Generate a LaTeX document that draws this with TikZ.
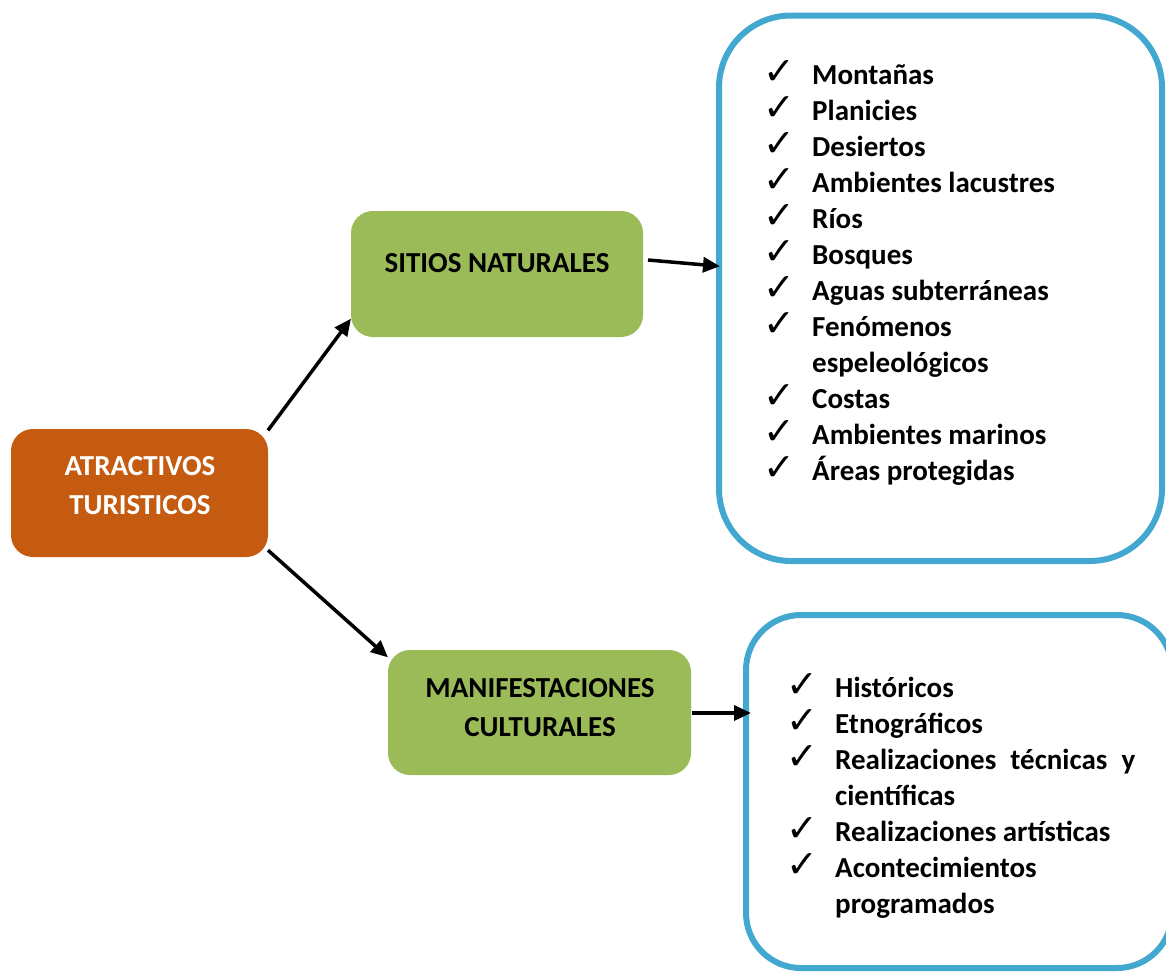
\documentclass[tikz,border=0pt]{standalone}
\usepackage{fontspec}
\setmainfont{Carlito}
\newfontfamily\symfont{DejaVu Sans}
\usetikzlibrary{arrows.meta,calc}
\definecolor{orangebox}{HTML}{C55A11}
\definecolor{greenbox}{HTML}{9BBB59}
\definecolor{bluebox}{HTML}{43A8CF}
\newcommand\ck{\makebox[47pt][l]{\hspace*{-2pt}\symfont\fontsize{38}{38}\selectfont ✓}}
\newcommand\nock{\hspace*{47pt}}
\begin{document}
\begin{tikzpicture}[x=1pt,y=-1pt,
  box/.style={rounded corners=22pt, inner sep=0pt, outer sep=0pt},
  listbox/.style={draw=bluebox, line width=6pt, fill=white, inner sep=0pt, outer sep=0pt},
  lbl/.style={anchor=base, inner sep=0pt, font=\bfseries\fontsize{29}{39}\selectfont},
  lst/.style={anchor=base west, inner sep=0pt, font=\bfseries\fontsize{29}{36}\selectfont},
  arr/.style={line width=3.5pt, -{Triangle[length=17pt,width=15pt]}},
]
\useasboundingbox (0,0) rectangle (1166,972);
% boxes
\node[box, fill=orangebox, minimum width=257pt, minimum height=128pt] (a) at (139.5,493) {};
\node[lbl, text=white] (at) at (140,475) {\begin{tabular}[t]{@{}c@{}}ATRACTIVOS\\TURISTICOS\end{tabular}};

\node[box, fill=greenbox, minimum width=292pt, minimum height=126pt] (s) at (497,274) {};
\node[lbl] (st) at (497,272) {SITIOS NATURALES};

\node[box, fill=greenbox, minimum width=303pt, minimum height=125pt] (m) at (539.5,712.5) {};
\node[lbl] (mt) at (540,697) {\begin{tabular}[t]{@{}c@{}}MANIFESTACIONES\\CULTURALES\end{tabular}};

\node[listbox, rounded corners=72pt, minimum width=443pt, minimum height=545.5pt] (b1) at (940.5,288.25) {};
\node[lst] (l1) at (765,84) {\begin{tabular}[t]{@{}l@{}}
\ck Montañas\\
\ck Planicies\\
\ck Desiertos\\
\ck Ambientes lacustres\\
\ck Ríos\\
\ck Bosques\\
\ck Aguas subterráneas\\
\ck Fenómenos\\
\nock espeleológicos\\
\ck Costas\\
\ck Ambientes marinos\\
\ck Áreas protegidas
\end{tabular}};

\node[listbox, rounded corners=55pt, minimum width=426pt, minimum height=353pt] (b2) at (959,791.5) {};
\node[lst] (l2) at (788,697) {\begin{tabular}[t]{@{}l@{}}
\ck Históricos\\
\ck Etnográficos\\
\ck \makebox[300pt][s]{Realizaciones técnicas y}\\
\nock científicas\\
\ck Realizaciones artísticas\\
\ck Acontecimientos\\
\nock programados
\end{tabular}};

% connectors
\draw[arr] (a.26) -- (s.197);
\draw[arr] (a.-24) -- (m.160);
\coordinate (s1) at ($(s.east)+(5,-14)$);
\coordinate (e1) at ($(b1.west)+(1,-22)$);
\draw[arr] (s1) -- (e1);
\coordinate (s2) at ($(m.east)+(1,0.5)$);
\coordinate (e2) at ($(b2.west)+(5,-78.5)$);
\draw[arr] (s2) -- (e2);
\end{tikzpicture}
\end{document}
